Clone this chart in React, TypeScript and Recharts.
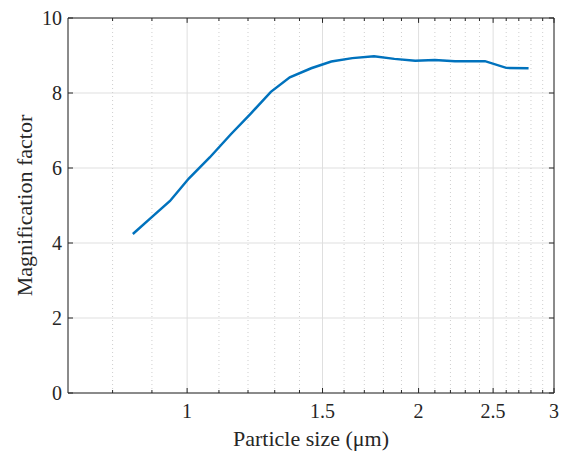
import React from 'react'
import { LineChart, Line, XAxis, YAxis, CartesianGrid, ReferenceLine, Label } from 'recharts'

// particle size (µm) vs magnification factor
const sizes = [0.85, 0.895, 0.95, 1.005, 1.07, 1.14, 1.21, 1.285, 1.36, 1.45, 1.54, 1.64, 1.75, 1.86, 1.98, 2.1, 2.23, 2.37, 2.44, 2.6, 2.78]
const factors = [4.24, 4.65, 5.12, 5.72, 6.28, 6.9, 7.45, 8.03, 8.42, 8.66, 8.84, 8.93, 8.98, 8.91, 8.86, 8.88, 8.85, 8.85, 8.85, 8.67, 8.66]

const xTicks = [1, 1.5, 2, 2.5, 3]
const minorX = [0.8, 0.9, 1.1, 1.2, 1.3, 1.4, 1.6, 1.7, 1.8, 1.9, 2.1, 2.2, 2.3, 2.4, 2.6, 2.7, 2.8, 2.9]
const yTicks = [0, 2, 4, 6, 8, 10]

const data = sizes.map((s, i) => ({ s, f: factors[i] }))

const AX = '#262626'
const GRID = '#dfdfdf'
const FONT = '"Liberation Serif", "DejaVu Serif", serif'

const XTick = (p: any) => (
  <text x={p.x} y={p.y} dy="0.71em" textAnchor="middle" fill={AX} fontSize={20} fontFamily={FONT}>
    {p.payload.value}
  </text>
)
const YTick = (p: any) => (
  <text x={p.x} y={p.y} dy="0.355em" textAnchor="end" fill={AX} fontSize={20} fontFamily={FONT}>
    {p.payload.value}
  </text>
)

export default function App() {
  return (
    <div style={{ position: 'absolute', left: 0, top: 0, width: 563, height: 455, background: '#fff' }}>
      <LineChart width={563} height={455} data={data} margin={{ top: 18, right: 9, left: 0, bottom: 0 }}>
        <CartesianGrid stroke={GRID} strokeWidth={1} />
        {minorX.map(v => (
          <ReferenceLine key={'g' + v} x={v} stroke="#cfcfcf" strokeDasharray="1 3" strokeWidth={1} />
        ))}
        <XAxis
          dataKey="s" type="number" scale="log" domain={[0.7, 3]} ticks={xTicks} allowDataOverflow
          stroke={AX} tickSize={-5} tickMargin={16} height={62}
          tick={XTick}
        >
          <Label value="Particle size (μm)" position="insideBottom" offset={9} style={{ fill: AX, fontSize: 22, fontFamily: FONT }} />
        </XAxis>
        <YAxis
          type="number" domain={[0, 10]} ticks={yTicks} allowDataOverflow
          stroke={AX} tickSize={-5} tickMargin={11} width={68}
          tick={YTick}
        >
          <Label value="Magnification factor" angle={-90} position="insideLeft" offset={24} style={{ fill: AX, fontSize: 22, fontFamily: FONT, textAnchor: 'middle' }} />
        </YAxis>
        {/* box on top and right */}
        <ReferenceLine y={10} stroke={AX} strokeWidth={1} />
        <ReferenceLine x={3} stroke={AX} strokeWidth={1} />
        {/* minor ticks bottom/top */}
        {minorX.map(v => (
          <ReferenceLine key={'mb' + v} segment={[{ x: v, y: 0 }, { x: v, y: 0.08 }]} stroke={AX} />
        ))}
        {minorX.map(v => (
          <ReferenceLine key={'mt' + v} segment={[{ x: v, y: 10 }, { x: v, y: 9.92 }]} stroke={AX} />
        ))}
        {xTicks.map(v => (
          <ReferenceLine key={'t' + v} segment={[{ x: v, y: 10 }, { x: v, y: 9.87 }]} stroke={AX} />
        ))}
        {yTicks.map(v => (
          <ReferenceLine key={'r' + v} segment={[{ x: 2.955, y: v }, { x: 3, y: v }]} stroke={AX} />
        ))}
        <Line type="linear" dataKey="f" stroke="#0072BD" strokeWidth={2.5} dot={false} isAnimationActive={false} />
      </LineChart>
    </div>
  )
}
